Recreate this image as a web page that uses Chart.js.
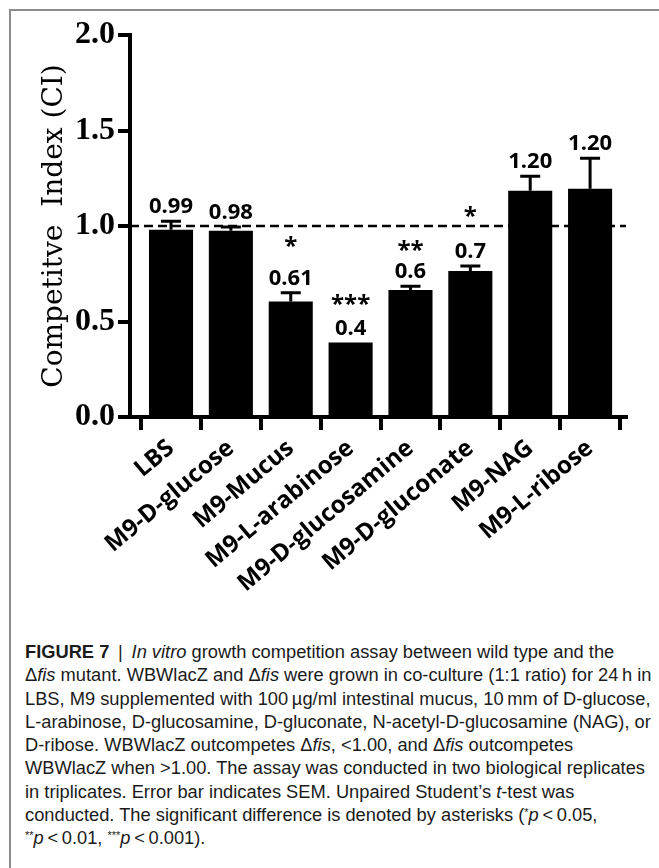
<!DOCTYPE html>
<html>
<head>
<meta charset="utf-8">
<script src="https://cdn.jsdelivr.net/npm/chart.js@4.4.1/dist/chart.umd.min.js"></script>
<style>
  body { margin: 0; background: #fff; }
  #frame {
    position: absolute; left: 9px; top: 9px; width: 660px; height: 870px;
    border-left: 2px solid #8c8c8c; border-top: 2px solid #8c8c8c;
  }
  #chart { position: absolute; left: 0; top: 0; }
  #caption {
    position: absolute; left: 25px; top: 640px;
    font-family: "Liberation Sans", Arial, sans-serif; font-size: 18.3px;
    line-height: 23.3px; color: #1b1b1b; white-space: nowrap;
  }
  #caption sup { font-size: 11px; vertical-align: 5px; line-height: 0; }
</style>
</head>
<body>
<div id="frame"></div>
<canvas id="chart" width="659" height="630"></canvas>
<div id="caption">
<b>FIGURE 7</b>&nbsp;&thinsp;|&thinsp;&nbsp;<i>In vitro</i> growth competition assay between wild type and the<br>
Δ<i>fis</i> mutant. WBWlacZ and Δ<i>fis</i> were grown in co-culture (1:1 ratio) for 24&thinsp;h in<br>
LBS, M9 supplemented with 100&thinsp;µg/ml intestinal mucus, 10&thinsp;mm of D-glucose,<br>
L-arabinose, D-glucosamine, D-gluconate, N-acetyl-D-glucosamine (NAG), or<br>
D-ribose. WBWlacZ outcompetes Δ<i>fis</i>, &lt;1.00, and Δ<i>fis</i> outcompetes<br>
WBWlacZ when &gt;1.00. The assay was conducted in two biological replicates<br>
in triplicates. Error bar indicates SEM. Unpaired Student’s <i>t</i>-test was<br>
conducted. The significant difference is denoted by asterisks (<sup>*</sup><i>p</i>&thinsp;&lt;&thinsp;0.05,<br>
<sup>**</sup><i>p</i>&thinsp;&lt;&thinsp;0.01, <sup>***</sup><i>p</i>&thinsp;&lt;&thinsp;0.001).
</div>
<script>
// Data
const categories = ['LBS', 'M9-D-glucose', 'M9-Mucus', 'M9-L-arabinose',
    'M9-D-glucosamine', 'M9-D-gluconate', 'M9-NAG', 'M9-L-ribose'];
const ciValues = [0.98, 0.975, 0.605, 0.39, 0.665, 0.765, 1.185, 1.195];
const semValues = [0.045, 0.02, 0.045, 0, 0.02, 0.025, 0.075, 0.16];
const valueLabels = ['0.99', '0.98', '0.61', '0.4', '0.6', '0.7', '1.20', '1.20'];
const stars = ['', '', '*', '***', '**', '*', '', ''];
const starLevels = [null, null, 0.914, 0.613, 0.895, 1.071, null, null];
const yTicks = [0, 0.5, 1.0, 1.5, 2.0];
const refLine = 1.0;

const labelFont = '"Open Sans", "DejaVu Sans", sans-serif';

// dashed reference line, error bars, value labels and asterisks
const annotatePlugin = {
    id: 'annotate',
    beforeDatasetsDraw(chart) {
        const ctx = chart.ctx;
        const area = chart.chartArea;
        const y = chart.scales.y.getPixelForValue(refLine);
        ctx.save();
        ctx.strokeStyle = '#000';
        ctx.lineWidth = 2.5;
        ctx.setLineDash([9, 5]);
        ctx.beginPath();
        ctx.moveTo(area.left, y);
        ctx.lineTo(area.right, y);
        ctx.stroke();
        ctx.restore();
    },
    afterDatasetsDraw(chart) {
        const ctx = chart.ctx;
        const xs = chart.scales.x;
        const ys = chart.scales.y;
        ctx.save();
        ctx.strokeStyle = '#000';
        ctx.fillStyle = '#000';
        ctx.lineWidth = 3;
        ctx.textAlign = 'center';
        ctx.textBaseline = 'alphabetic';
        ciValues.forEach((v, i) => {
            const x = xs.getPixelForValue(i);
            const top = ys.getPixelForValue(v + semValues[i]);
            if (semValues[i] > 0) {
                ctx.beginPath();
                ctx.moveTo(x, ys.getPixelForValue(v));
                ctx.lineTo(x, top);
                ctx.moveTo(x - 10, top);
                ctx.lineTo(x + 10, top);
                ctx.stroke();
            }
            ctx.font = 'bold 22px ' + labelFont;
            ctx.fillText(valueLabels[i], x, top - 8);
            if (stars[i]) {
                ctx.font = 'bold 24px ' + labelFont;
                ctx.fillText(stars[i], x, ys.getPixelForValue(starLevels[i]) + 12);
            }
        });
        ctx.restore();
    }
};

new Chart(document.getElementById('chart'), {
    type: 'bar',
    data: {
        datasets: [{
            data: ciValues.map((v, i) => ({ x: i, y: v })),
            backgroundColor: '#000',
            borderWidth: 0,
            categoryPercentage: 0.8,
            barPercentage: 0.92
        }]
    },
    options: {
        responsive: false,
        animation: false,
        layout: { padding: { top: 35, right: 33, left: 0, bottom: 0 } },
        plugins: { legend: { display: false }, tooltip: { enabled: false } },
        scales: {
            x: {
                type: 'linear',
                offset: false,
                min: -0.685,
                max: 7.6,
                afterFit: (s) => { s.height = 213; },
                afterBuildTicks: (s) => { s.ticks = categories.map((c, i) => ({ value: i })); },
                border: { color: '#000', width: 4 },
                grid: { drawOnChartArea: false, color: '#000', lineWidth: 4, tickLength: 13 },
                ticks: {
                    autoSkip: false,
                    minRotation: 40,
                    maxRotation: 40,
                    padding: 4,
                    color: '#000',
                    font: { family: labelFont, size: 24, weight: 'bold' },
                    callback: (v) => categories[v]
                }
            },
            y: {
                min: 0,
                max: 2.0,
                afterFit: (s) => { s.width = 130; },
                afterBuildTicks: (s) => { s.ticks = yTicks.map((v) => ({ value: v })); },
                border: { color: '#000', width: 4 },
                grid: { drawOnChartArea: false, color: '#000', lineWidth: 4, tickLength: 12 },
                ticks: {
                    padding: 3,
                    color: '#000',
                    font: { family: '"Liberation Serif", serif', size: 32, weight: 'bold' },
                    callback: (v) => v.toFixed(1)
                },
                title: {
                    display: true,
                    text: 'Competitve  Index (CI)',
                    color: '#000',
                    padding: { top: 38 },
                    font: { family: '"DejaVu Serif", serif', size: 28 }
                }
            }
        }
    },
    plugins: [annotatePlugin]
});
</script>
</body>
</html>
